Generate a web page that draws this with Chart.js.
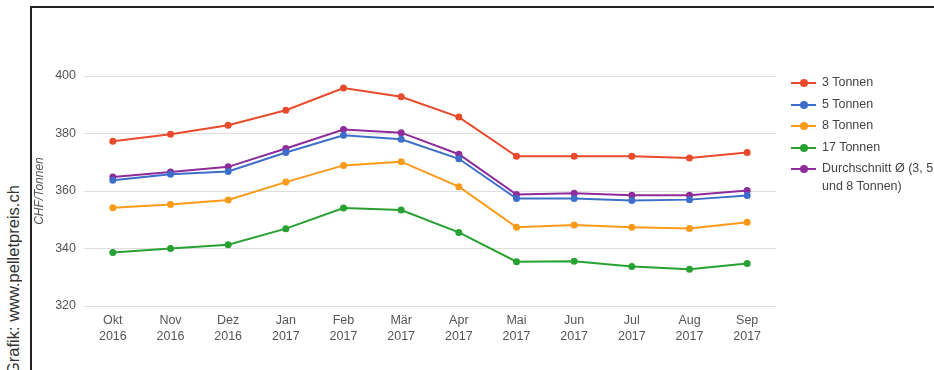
<!DOCTYPE html>
<html>
<head>
<meta charset="utf-8">
<script src="https://cdn.jsdelivr.net/npm/chart.js@4/dist/chart.umd.min.js"></script>
<style>
  html, body { margin: 0; padding: 0; width: 934px; height: 370px; overflow: hidden; background: #fff; }
  #frame { position: absolute; left: 30px; top: 6px; width: 1000px; height: 420px; border-left: 2px solid #222; border-top: 2px solid #222; box-sizing: border-box; }
  #credit { position: absolute; left: 3px; top: 186px; height: 189px; writing-mode: vertical-rl; transform: rotate(180deg); font-family: "Liberation Sans", Arial, sans-serif; font-size: 16.5px; line-height: 21px; color: #333; white-space: nowrap; }
  #c { position: absolute; left: 0; top: 0; }
  #legend { position: absolute; left: 791px; top: 74px; font-family: "Liberation Sans", Arial, sans-serif; font-size: 12.5px; color: #444; white-space: nowrap; }
  .item { position: relative; height: 21.6px; }
  .sw { position: absolute; left: 0; top: 8px; width: 25px; height: 2px; }
  .dot { position: absolute; left: 9px; top: 5px; width: 8px; height: 8px; border-radius: 50%; }
  .lbl { position: absolute; left: 31px; top: 0px; line-height: 17.4px; }
</style>
</head>
<body>
<div id="frame"></div>
<div id="credit">Grafik: www.pelletpreis.ch</div>
<canvas id="c" width="934" height="370"></canvas>
<div id="legend"></div>
<script>
const categories = [['Okt','2016'],['Nov','2016'],['Dez','2016'],['Jan','2017'],['Feb','2017'],['Mär','2017'],['Apr','2017'],['Mai','2017'],['Jun','2017'],['Jul','2017'],['Aug','2017'],['Sep','2017']];
const seriesNames = ['3 Tonnen', '5 Tonnen', '8 Tonnen', '17 Tonnen', 'Durchschnitt Ø (3, 5 und 8 Tonnen)'];
const tonnen3 = [377.3, 379.7, 382.9, 388.1, 395.8, 392.8, 385.7, 372.1, 372.1, 372.1, 371.5, 373.4];
const tonnen5 = [363.7, 365.8, 366.8, 373.4, 379.4, 378.0, 371.2, 357.4, 357.4, 356.7, 357.0, 358.4];
const tonnen8 = [354.2, 355.3, 356.9, 363.1, 368.9, 370.2, 361.5, 347.4, 348.2, 347.4, 347.0, 349.1];
const tonnen17 = [338.6, 340.0, 341.3, 346.9, 354.1, 353.4, 345.6, 335.4, 335.6, 333.7, 332.8, 334.8];
const durchschnitt = [364.9, 366.6, 368.4, 374.8, 381.4, 380.3, 372.8, 358.8, 359.2, 358.5, 358.5, 360.2];
const yTicks = [320, 340, 360, 380, 400];
const colors = ['#e84a2c', '#3d6fca', '#fb9a1a', '#27a131', '#8e2c9a'];

const allSeries = [tonnen3, tonnen5, tonnen8, tonnen17, durchschnitt];
const datasets = allSeries.map((d, i) => ({
  label: seriesNames[i],
  data: d,
  borderColor: colors[i],
  backgroundColor: colors[i],
  borderWidth: 2,
  pointRadius: 3.5,
  pointBorderWidth: 0,
  tension: 0,
  fill: false
}));

new Chart(document.getElementById('c'), {
  type: 'line',
  data: { labels: categories, datasets },
  options: {
    responsive: false,
    animation: false,
    layout: { padding: { left: 32, right: 158, top: 76, bottom: 0 } },
    plugins: { legend: { display: false }, tooltip: { enabled: false } },
    scales: {
      x: {
        offset: true,
        grid: { display: false, drawTicks: false },
        border: { display: false },
        ticks: { color: '#555', padding: 7, maxRotation: 0, autoSkip: false, font: { family: 'Liberation Sans', size: 12.5, lineHeight: '16px' } },
        afterFit: s => { s.height = 64; }
      },
      y: {
        min: yTicks[0], max: yTicks[yTicks.length - 1],
        afterBuildTicks: s => { s.ticks = yTicks.map(v => ({ value: v })); },
        grid: { color: '#dedede', lineWidth: 1, drawTicks: false },
        border: { display: false },
        ticks: { color: '#555', padding: 8, font: { family: 'Liberation Sans', size: 12.5 } },
        title: { display: true, text: 'CHF/Tonnen', color: '#555', padding: { top: 0, bottom: 0 }, font: { family: 'Liberation Sans', size: 12, style: 'italic' } },
        afterFit: s => { s.width = 52; }
      }
    }
  }
});

const leg = document.getElementById('legend');
seriesNames.forEach((n, i) => {
  const it = document.createElement('div');
  it.className = 'item';
  const sw = document.createElement('div'); sw.className = 'sw'; sw.style.background = colors[i];
  const dot = document.createElement('div'); dot.className = 'dot'; dot.style.background = colors[i];
  const lbl = document.createElement('div'); lbl.className = 'lbl';
  if (i === 4) { lbl.innerHTML = 'Durchschnitt Ø (3, 5<br>und 8 Tonnen)'; } else { lbl.textContent = n; }
  it.appendChild(sw); it.appendChild(dot); it.appendChild(lbl);
  leg.appendChild(it);
});
</script>
</body>
</html>
